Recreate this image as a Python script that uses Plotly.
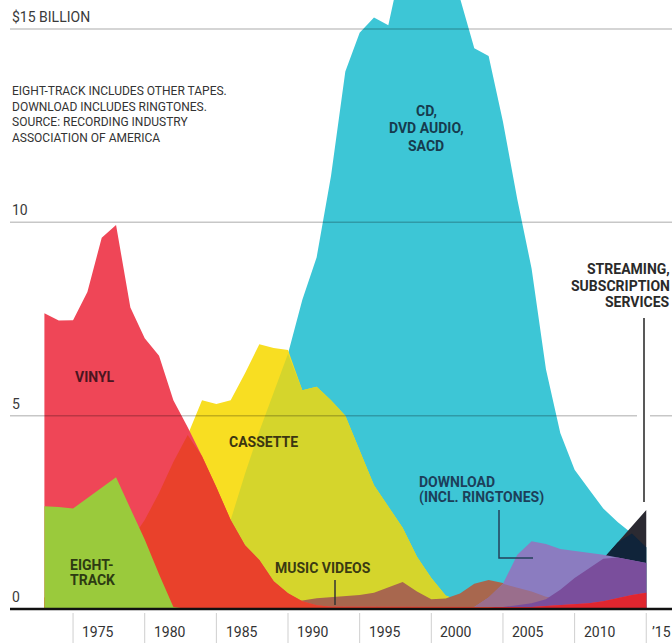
import plotly.graph_objects as go
import numpy as np

# ---------------- data (inflation-adjusted US recorded-music revenue, $ billion) ----------------
years = list(range(1973, 2016))

vinyl = [7.65, 7.46, 7.47, 8.2, 9.6, 9.93, 7.8, 7.0, 6.55, 5.4,
         4.7, 3.95, 3.15, 2.3, 1.65, 1.27, 0.72, 0.41, 0.2, 0.1,
         0.06, 0.06, 0.05, 0.05, 0.05, 0.05, 0.05, 0.05, 0.05, 0.05,
         0.05, 0.05, 0.04, 0.04, 0.05, 0.08, 0.1, 0.12, 0.15, 0.2,
         0.28, 0.36, 0.42]

eight_track = [2.66, 2.64, 2.6, 2.87, 3.15, 3.41, 2.6, 1.8, 0.9, 0.05,
               0, 0, 0, 0, 0, 0, 0, 0, 0, 0,
               0, 0, 0, 0, 0, 0, 0, 0, 0, 0,
               0, 0, 0, 0, 0, 0, 0, 0, 0, 0,
               0, 0, 0]

cassette = [0.3, 0.4, 0.6, 0.8, 1.1, 1.4, 1.75, 2.3, 3.0, 3.8,
            4.5, 5.4, 5.3, 5.4, 6.1, 6.85, 6.75, 6.7, 5.66, 5.75,
            5.4, 5.0, 4.1, 3.2, 2.65, 2.1, 1.35, 0.8, 0.35, 0.2,
            0.1, 0.05, 0, 0, 0, 0, 0, 0, 0, 0,
            0, 0, 0]

cd = [0, 0, 0, 0, 0, 0, 0, 0, 0, 0,
      0.02, 0.2, 0.9, 2.3, 3.5, 4.6, 5.6, 6.6, 8.0, 9.1,
      11.2, 13.9, 14.9, 15.3, 15.1, 16.8, 18.2, 18.3, 17.2, 15.8,
      14.5, 14.3, 12.6, 10.6, 8.8, 6.2, 4.55, 3.6, 3.1, 2.6,
      2.25, 1.95, 1.6]

music_videos = [0, 0, 0, 0, 0, 0, 0, 0, 0, 0,
                0, 0, 0, 0, 0, 0.1, 0.28, 0.18, 0.22, 0.28,
                0.31, 0.33, 0.36, 0.42, 0.55, 0.7, 0.45, 0.25, 0.27, 0.4,
                0.65, 0.75, 0.67, 0.55, 0.45, 0.32, 0.25, 0.2, 0.17, 0.14,
                0.12, 0.1, 0.1]

download = [0, 0, 0, 0, 0, 0, 0, 0, 0, 0,
            0, 0, 0, 0, 0, 0, 0, 0, 0, 0,
            0, 0, 0, 0, 0, 0, 0, 0, 0, 0,
            0.05, 0.3, 0.65, 1.4, 1.75, 1.68, 1.55, 1.5, 1.45, 1.4,
            1.33, 1.26, 1.19]

streaming = [0, 0, 0, 0, 0, 0, 0, 0, 0, 0,
             0, 0, 0, 0, 0, 0, 0, 0, 0, 0,
             0, 0, 0, 0, 0, 0, 0, 0, 0, 0,
             0, 0, 0.05, 0.1, 0.15, 0.25, 0.5, 0.8, 1.05, 1.3,
             1.72, 2.14, 2.56]

tick_years = [1975, 1980, 1985, 1990, 1995, 2000, 2005, 2010, 2015]
tick_labels = ["1975", "1980", "1985", "1990", "1995", "2000", "2005", "2010", "’15"]
y_grid = [5, 10, 15]
y_labels = ["5", "10", "$15 BILLION"]

# ---------------- styling ----------------
W, H = 672, 643
X0_PX, PX_PER_YEAR = 44.4, 14.33
BASE_PX, PX_PER_UNIT = 609.0, 38.667
X_RANGE = [1973 - X0_PX / PX_PER_YEAR, 1973 + (W - X0_PX) / PX_PER_YEAR]
Y_RANGE = [-(H - BASE_PX) / PX_PER_UNIT, BASE_PX / PX_PER_UNIT]


def yr(px):
    return 1973 + (px - X0_PX) / PX_PER_YEAR


def val(py):
    return (BASE_PX - py) / PX_PER_UNIT


FONT = "Roboto, 'DejaVu Sans', sans-serif"

fig = go.Figure()


def area(y, color):
    fig.add_trace(go.Scatter(
        x=years, y=list(y), mode="lines", line=dict(width=0, color=color),
        fill="tozeroy", fillcolor=color, hoverinfo="skip", showlegend=False))


mn = np.minimum
area(cd, "#3DC6D6")
area(streaming, "#2B2A32")
area(mn(streaming, cd), "#10243A")
area(cassette, "#F8DE22")
area(mn(cassette, cd), "#D5D52C")
area(music_videos, "#A8674E")
area(download, "#8B7CC0")
area(mn(download, music_videos), "#9A6E8C")
area(mn(download, streaming), "#7A4E9C")
area(vinyl, "#EF4657")
area(mn(vinyl, download), "#E0262F")
area(mn(vinyl, cassette), "#E9412B")
area(eight_track, "#9ACA3C")

shapes = []
# horizontal gridlines (drawn above the areas)
for g in y_grid:
    shapes.append(dict(type="line", xref="paper", yref="y", x0=10 / W, x1=1, y0=g, y1=g,
                       line=dict(color="rgba(0,0,0,0.22)", width=1.5), layer="above"))
# gap in 5-gridline for the streaming leader
shapes.append(dict(type="line", xref="x", yref="y", x0=yr(637), x1=yr(650), y0=5, y1=5,
                   line=dict(color="white", width=3), layer="above"))
# baseline
shapes.append(dict(type="line", xref="paper", yref="y", x0=10 / W, x1=1, y0=0, y1=0,
                   line=dict(color="#111111", width=2.5), layer="above"))
# year separators
for t in tick_years:
    shapes.append(dict(type="line", xref="x", yref="y", x0=t, x1=t, y0=val(613), y1=Y_RANGE[0],
                       line=dict(color="#CFCFCF", width=1), layer="above"))
# leader lines
shapes.append(dict(type="line", xref="x", yref="y", x0=yr(335), x1=yr(335), y0=val(580), y1=val(605),
                   line=dict(color="#333333", width=1.5), layer="above"))
shapes.append(dict(type="path", xref="x", yref="y",
                   path=f"M {yr(499)},{val(510)} L {yr(499)},{val(558)} L {yr(533)},{val(558)}",
                   line=dict(color="#24405A", width=1.5), layer="above"))
shapes.append(dict(type="line", xref="x", yref="y", x0=yr(644), x1=yr(644), y0=val(318), y1=val(502),
                   line=dict(color="#222222", width=1.5), layer="above"))

ann = []
# y labels
for g, lab in zip(y_grid, y_labels):
    ann.append(dict(xref="paper", yref="y", x=10 / W, y=g, yshift=12, text=lab, showarrow=False,
                    xanchor="left", yanchor="middle", font=dict(family=FONT, size=14, color="#3A3A3A")))
ann.append(dict(xref="paper", yref="y", x=10 / W, y=0, yshift=12, text="0", showarrow=False,
                xanchor="left", yanchor="middle", font=dict(family=FONT, size=14, color="#3A3A3A")))
# x labels
for t, lab in zip(tick_years, tick_labels):
    off = 0.5 if t < 2015 else 0.25
    ann.append(dict(xref="x", yref="y", x=t + off, y=val(632), text=lab, showarrow=False,
                    xanchor="left", yanchor="middle", font=dict(family=FONT, size=14, color="#333333")))
# note
ann.append(dict(xref="paper", yref="y", x=10 / W, y=val(114),
                text="EIGHT-TRACK INCLUDES OTHER TAPES.<br>DOWNLOAD INCLUDES RINGTONES.<br>"
                     "SOURCE: RECORDING INDUSTRY<br>ASSOCIATION OF AMERICA",
                showarrow=False, xanchor="left", yanchor="middle", align="left",
                font=dict(family=FONT, size=12, color="#333333")))


def label(lines, xpx, ypx_center, spacing, color, anchor="center", size=14):
    n = len(lines)
    for i, line in enumerate(lines):
        ann.append(dict(xref="paper", yref="y", x=xpx / W, y=val(ypx_center),
                        yshift=((n - 1) / 2 - i) * spacing, text=f"<b>{line}</b>",
                        showarrow=False, xanchor=anchor, yanchor="middle",
                        font=dict(family=FONT, size=size, color=color)))


label(["VINYL"], 95, 377, 16, "#4A1520")
label(["EIGHT-", "TRACK"], 92, 572, 15, "#2D3B12")
label(["CASSETTE"], 263, 442, 16, "#3B3511")
label(["MUSIC VIDEOS"], 323, 568, 16, "#3A3A12")
label(["CD,", "DVD AUDIO,", "SACD"], 426, 128, 17.5, "#163B4E")
label(["DOWNLOAD", "(INCL. RINGTONES)"], 417, 489.5, 15.5, "#1C3F5A", anchor="left")
label(["STREAMING,", "SUBSCRIPTION", "SERVICES"], 672, 285.5, 16.5, "#2A2A2A", anchor="right", size=14)

fig.update_layout(
    width=W, height=H, autosize=False,
    margin=dict(l=0, r=0, t=0, b=0),
    paper_bgcolor="white", plot_bgcolor="white",
    xaxis=dict(range=X_RANGE, visible=False, fixedrange=True),
    yaxis=dict(range=Y_RANGE, visible=False, fixedrange=True),
    shapes=shapes, annotations=ann, showlegend=False,
)

fig.write_html("out.html", config={"displayModeBar": False},
               post_script="document.body.style.margin='0';")
